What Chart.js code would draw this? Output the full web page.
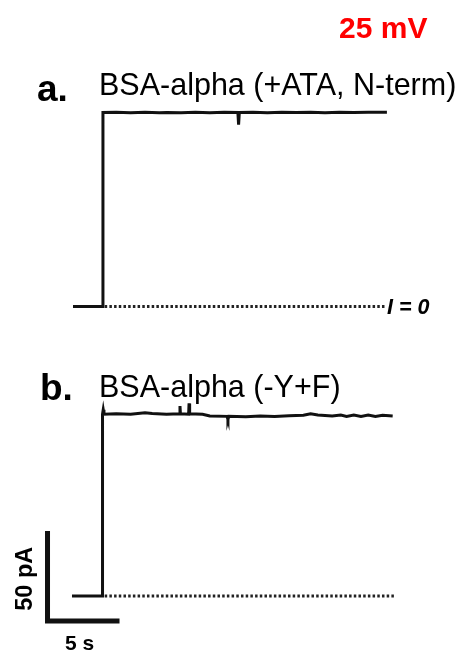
<!DOCTYPE html>
<html>
<head>
<meta charset="utf-8">
<script src="https://cdn.jsdelivr.net/npm/chart.js@4"></script>
<style>
  body { margin: 0; background: #fff; }
  #wrap { position: relative; width: 463px; height: 650px; overflow: hidden; }
  #trace { position: absolute; left: 0; top: 0; }
  .lbl { position: absolute; white-space: nowrap; line-height: 1; font-family: "Liberation Sans", Arial, sans-serif; color: #000; }
</style>
</head>
<body>
<div id="wrap">
  <canvas id="trace" width="463" height="650"></canvas>
  <div class="lbl" style="left:339px; top:12.6px; font-size:30px; font-weight:bold; color:#ff0000;">25 mV</div>
  <div class="lbl" style="left:37px; top:69.7px; font-size:37px; font-weight:bold;">a.</div>
  <div class="lbl" style="left:99px; top:69.4px; font-size:30.5px;">BSA-alpha (+ATA, N-term)</div>
  <div class="lbl" style="left:387px; top:297px; font-size:21.5px; font-weight:bold; font-style:italic;">I = 0</div>
  <div class="lbl" style="left:40px; top:369.4px; font-size:37px; font-weight:bold;">b.</div>
  <div class="lbl" style="left:99px; top:371.2px; font-size:30.5px;">BSA-alpha (-Y+F)</div>
  <div class="lbl" style="left:65px; top:632px; font-size:21px; font-weight:bold;">5 s</div>
  <div class="lbl" style="left:-8px; top:567px; width:66px; text-align:center; font-size:23.5px; font-weight:bold; transform:rotate(-90deg);">50 pA</div>
</div>
<script>
// time in s, current in pA
const traceA = [
  [0, 0], [2.08, 0], [2.08, 107.8], [3, 107.9], [4, 107.7], [5, 107.9], [6, 107.7],
  [6.5, 107.8], [7.5, 107.7], [8.5, 107.9], [9.5, 107.7], [10.5, 107.9], [11.45, 107.8],
  [11.5, 101], [11.55, 107.8], [12.5, 107.9], [13.5, 107.7], [14.5, 107.9], [15.5, 107.8],
  [16.5, 107.9], [17.5, 107.7], [18.5, 107.9], [19.5, 107.8], [20.5, 107.9], [21.8, 107.9]
];
const traceB = [
  [-0.07, 0], [2.05, 0], [2.05, 101], [2.1, 103.5], [2.15, 101], [3, 101.2], [4, 101],
  [5, 101.8], [5.5, 101.4], [6.5, 101], [7.4, 101.2], [7.43, 105.5], [7.46, 101.2],
  [8.03, 101], [8.06, 107], [8.1, 101.2], [9, 101], [9.5, 100], [10.7, 99.8],
  [10.76, 98], [10.82, 99.8], [12, 99.6], [13, 100], [14, 99.7], [15, 100.1],
  [16, 100.4], [16.5, 101.2], [17, 100.5], [18, 100], [18.6, 100.5], [19, 99.8],
  [19.5, 100.5], [20, 99.8], [20.5, 100.5], [21, 99.8], [21.5, 100.4], [22.2, 100]
];
// zero-current reference ranges (s)
const zeroA = [2.2, 21.67];
const zeroB = [2.2, 22.36];
// scale bar: 5 s, 50 pA
const barTime = 5;
const barCurrent = 50;
const barStart = [-1.77, -13.9];

const PX_PER_S = 14.4;
const PX_PER_PA = 1.8;
const offsetA = 160.8; // vertical separation of panel a (pA)

const toPts = (arr, off) => arr.map(([x, y]) => ({ x: x, y: y + off }));

const line = { borderColor: '#111', borderWidth: 3, pointRadius: 0, tension: 0, fill: false,
  borderJoinStyle: 'miter', borderCapStyle: 'butt' };
const dots = { borderColor: '#222', borderWidth: 3, borderDash: [2.5, 2.2], pointRadius: 0, fill: false };

new Chart(document.getElementById('trace'), {
  type: 'line',
  data: {
    datasets: [
      Object.assign({ data: toPts(zeroA.map(t => [t, 0]), offsetA) }, dots),
      Object.assign({ data: toPts(zeroB.map(t => [t, 0]), 0) }, dots),
      Object.assign({ data: toPts(traceA, offsetA) }, line),
      Object.assign({ data: toPts(traceB, 0) }, line),
      Object.assign({}, line, { borderWidth: 5, data: [
        { x: barStart[0], y: barStart[1] + barCurrent },
        { x: barStart[0], y: barStart[1] },
        { x: barStart[0] + barTime, y: barStart[1] }
      ] })
    ]
  },
  options: {
    responsive: false,
    devicePixelRatio: 1,
    animation: false,
    layout: { padding: 0 },
    plugins: { legend: { display: false }, tooltip: { enabled: false } },
    scales: {
      x: { type: 'linear', display: false, min: -73 / PX_PER_S, max: (463 - 73) / PX_PER_S },
      y: { type: 'linear', display: false, min: -(650 - 596) / PX_PER_PA, max: 596 / PX_PER_PA }
    }
  }
});
</script>
</body>
</html>
